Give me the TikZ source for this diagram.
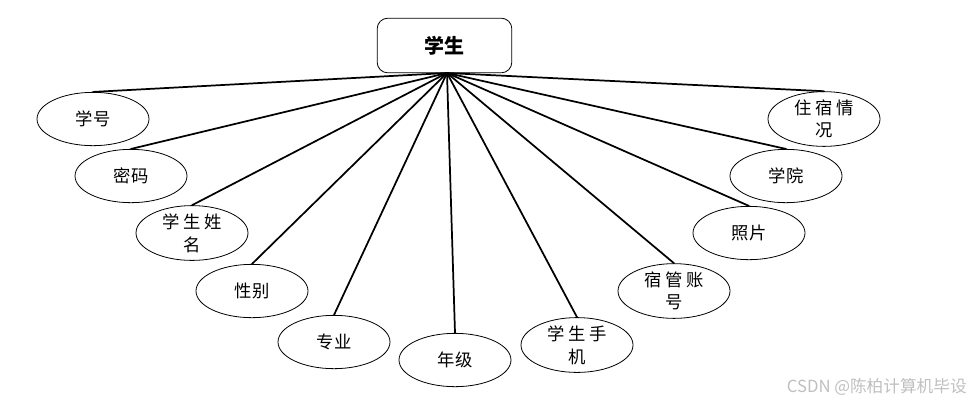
\documentclass[tikz,border=0pt]{standalone}
\usepackage{fontspec}
\newfontfamily\cjk{Noto Sans CJK SC}
\usetikzlibrary{shapes.geometric}

\begin{document}
\begin{tikzpicture}[x=0.75pt, y=-0.75pt, line join=round, line cap=round,
    attr/.style={draw, ellipse, line width=0.6pt, minimum width=84pt, minimum height=40pt,
      inner sep=0pt, align=center, font=\cjk\fontsize{13}{17}\selectfont},
    entity/.style={draw, rounded corners=8pt, line width=0.6pt, minimum width=101pt,
      minimum height=41pt, font=\cjk\fontsize{15}{18}\selectfont\bfseries},
    link/.style={line width=1.3pt}]
    \useasboundingbox (0,0) rectangle (971,405);
    % entity
    \node[entity] (stu) at (444.5,45.5) {学生};
    \coordinate (hub) at (447,73);
    % attributes, left side
    \node[attr] (xh) at (93,119) {学号};
    \node[attr] (mm) at (131,176) {密码};
    \node[attr] (xm) at (192,233) {学\hspace{3pt}生\hspace{3pt}姓\\名};
    \node[attr] (xb) at (252,291) {性别};
    \node[attr] (zy) at (334,342) {专业};
    \node[attr] (nj) at (455,360) {年级};
    % attributes, right side
    \node[attr] (sj) at (577,345) {学\hspace{3pt}生\hspace{3pt}手\\机};
    \node[attr] (sg) at (674,291) {宿\hspace{3pt}管\hspace{3pt}账\\号};
    \node[attr] (zp) at (749,233) {照片};
    \node[attr] (xy) at (786,176) {学院};
    \node[attr] (zs) at (824,119) {住\hspace{3pt}宿\hspace{3pt}情\\况};
    % connectors
    \foreach \a in {xh,mm,xm,xb,zy,nj,sj,sg,zp,xy,zs}
      \draw[link] (hub) -- (\a.north);
    % watermark
    \node[anchor=east, text=black!25, inner sep=0pt, font=\cjk\fontsize{12.5}{14}\selectfont]
      (wm) at (967,387) {CSDN @陈柏计算机毕设};
\end{tikzpicture}
\end{document}
